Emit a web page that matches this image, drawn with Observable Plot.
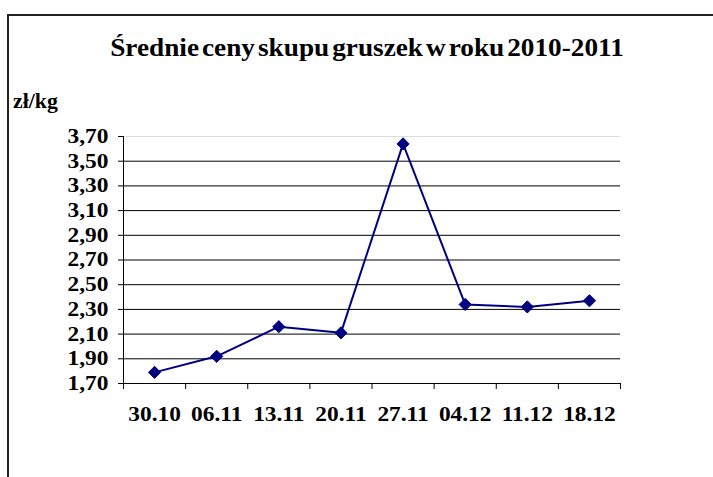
<!DOCTYPE html>
<html>
<head>
<meta charset="utf-8">
<script src="https://cdn.jsdelivr.net/npm/d3@7"></script>
<script src="https://cdn.jsdelivr.net/npm/@observablehq/plot@0.6"></script>
<style>
  html, body { margin: 0; padding: 0; background: #fff; }
  body { width: 713px; height: 477px; position: relative; overflow: hidden; font-family: "Liberation Serif", "Times New Roman", serif; }
  #frame { position: absolute; left: 7px; top: 14px; width: 800px; height: 600px; border-left: 2px solid #222; border-top: 2px solid #222; box-sizing: border-box; }
  #chart { position: absolute; left: 0; top: 0; }
  #title { position: absolute; left: 366.5px; top: 35px; white-space: nowrap; font-weight: bold; font-size: 25px; line-height: 25px; word-spacing: -3.5px; transform: translateX(-50%) scaleX(1.09); transform-origin: center; color: #000; }
  #unit { position: absolute; left: 12.7px; top: 91px; white-space: nowrap; font-weight: bold; font-size: 20px; line-height: 20px; transform: scaleX(1.09); transform-origin: left center; color: #000; }
</style>
</head>
<body>
<div id="chart"></div>
<div id="frame"></div>
<div id="title">Średnie ceny skupu gruszek w roku 2010-2011</div>
<div id="unit">zł/kg</div>
<script>
const dates = ["30.10", "06.11", "13.11", "20.11", "27.11", "04.12", "11.12", "18.12"];
const prices = [1.79, 1.92, 2.16, 2.11, 3.64, 2.34, 2.32, 2.37];
const yTicks = [1.7, 1.9, 2.1, 2.3, 2.5, 2.7, 2.9, 3.1, 3.3, 3.5, 3.7];

const data = dates.map((d, i) => ({i, date: d, price: prices[i]}));
const idx = dates.map((d, i) => i);
const bounds = dates.map((d, i) => i - 0.5).concat([dates.length - 0.5]);
const fmtY = v => v.toFixed(2).replace(".", ",");
const font = {fontFamily: "Liberation Serif, Times New Roman, serif", fontWeight: "bold"};

const chart = Plot.plot({
  width: 713,
  height: 477,
  marginLeft: 123,
  marginRight: 93,
  marginTop: 136,
  marginBottom: 94,
  style: {background: "transparent", fontFamily: font.fontFamily, color: "#000"},
  x: {type: "linear", domain: [-0.5, dates.length - 0.5]},
  y: {domain: [1.7, 3.7]},
  marks: [
    Plot.ruleY(yTicks.filter(v => v > 1.71 && v < 3.69), {stroke: "#000", strokeWidth: 1, strokeOpacity: 1}),
    Plot.ruleY([3.7], {stroke: "#dcdcdc", strokeWidth: 1}),
    Plot.ruleY([1.7], {stroke: "#000", strokeWidth: 1}),
    Plot.ruleX([-0.5], {stroke: "#000", strokeWidth: 1}),
    Plot.axisY({ticks: yTicks, tickFormat: fmtY, tickSize: 5, tickPadding: 10, fontSize: 20, fontWeight: "bold", fontFamily: font.fontFamily, label: null, stroke: "#000", fill: "#000"}),
    Plot.axisX({ticks: bounds, tickFormat: () => "", tickSize: 6, label: null, stroke: "#000"}),
    Plot.axisX({ticks: idx, tickFormat: i => dates[i], tickSize: 0, tickPadding: 23, fontSize: 20, fontWeight: "bold", fontFamily: font.fontFamily, label: null, fill: "#000"}),
    Plot.line(data, {x: "i", y: "price", stroke: "#000080", strokeWidth: 2}),
    Plot.dot(data, {x: "i", y: "price", symbol: "diamond2", r: 5.5, fill: "#000080", stroke: "#000080", strokeWidth: 1})
  ]
});
document.getElementById("chart").appendChild(chart);

// horizontally stretch tick labels as in the reference
const s = 1.17;
chart.querySelectorAll('g[aria-label$="tick label"] text').forEach(t => {
  const x = +t.getAttribute("x") || 0, y = +t.getAttribute("y") || 0;
  const tr = t.getAttribute("transform") || "";
  t.setAttribute("transform", `${tr} translate(${x},${y}) scale(${s},1) translate(${-x},${-y})`);
});
</script>
</body>
</html>
